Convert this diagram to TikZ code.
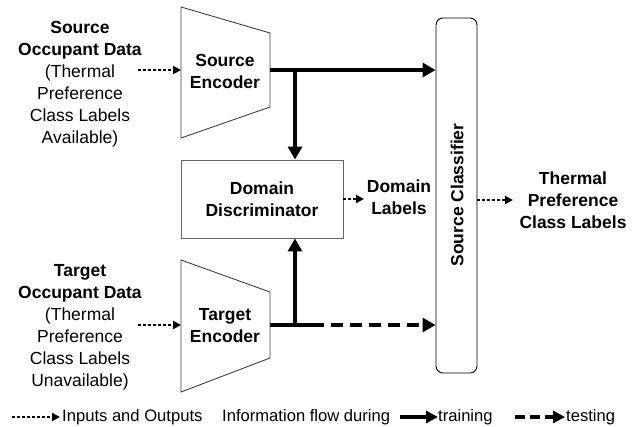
\documentclass[tikz,border=0pt]{standalone}
\usepackage{fontspec}
\setmainfont{Liberation Sans}
\usetikzlibrary{arrows.meta}
\begin{document}
\begin{tikzpicture}[x=1bp,y=-1bp,
  txt/.style={font=\fontsize{17.5bp}{22bp}\selectfont, align=center, inner sep=0pt},
  btxt/.style={txt, font=\fontsize{17.5bp}{22bp}\selectfont\bfseries},
  ltxt/.style={font=\fontsize{16.6bp}{20bp}\selectfont, anchor=west, inner sep=0pt},
  encshape/.style={draw=black!75, line width=0.9bp},
  trainflow/.style={line width=4bp, -{Triangle[length=13bp 0 0, width=14bp 0 0]}},
  testflow/.style={line width=4bp, dash pattern=on 12bp off 7bp, -{Triangle[length=13bp 0 0, width=14bp 0 0]}},
  ioflow/.style={line width=2.8bp, dash pattern=on 2.8bp off 2.2bp, -{Triangle[length=8bp 0 0, width=8bp 0 0]}},
]
\useasboundingbox (0,0) rectangle (639,426);

% encoders (trapezoids)
\draw[encshape] (181,7) -- (270,33) -- (270,107) -- (181,138) -- cycle;
\draw[encshape] (181,260) -- (270,292) -- (270,358) -- (181,392) -- cycle;
\node[btxt] (senc) at (225,71) {Source\\Encoder};
\node[btxt] (tenc) at (225,326) {Target\\Encoder};
\coordinate (senc-out) at (270,70);
\coordinate (tenc-out) at (270,325);
\coordinate (senc-in) at (181,70);
\coordinate (tenc-in) at (181,325);

% domain discriminator
\node[draw=black!60, line width=0.9bp, minimum width=162bp, minimum height=78bp, btxt] (dd) at (262,199) {Domain\\Discriminator};

% source classifier
\node[draw=black, line width=0.9bp, rounded corners=7bp, minimum width=41bp, minimum height=355bp, inner sep=0pt] (sc) at (456.5,195.5) {};
\node[btxt, rotate=90] (sclbl) at (457,195) {Source Classifier};

% outputs
\node[btxt] (dl) at (399,197) {Domain\\Labels};
\node[btxt] (tpl) at (573,200) {Thermal\\Preference\\Class Labels};

% inputs
\node[txt] (sdata) at (80,84) {\textbf{Source}\\\textbf{Occupant Data}\\(Thermal\\Preference\\Class Labels\\Available)};
\node[txt] (tdata) at (80,327) {\textbf{Target}\\\textbf{Occupant Data}\\(Thermal\\Preference\\Class Labels\\Unavailable)};

% input arrows
\coordinate (sdata-out) at (138,70);
\coordinate (tdata-out) at (138,325);
\draw[ioflow] (sdata-out) -- (senc-in);
\draw[ioflow] (tdata-out) -- (tenc-in);

% training flow
\coordinate (sj) at (295,70);
\coordinate (tj) at (295,325);
\coordinate (tsplit) at (312,325);
\draw[trainflow] (senc-out) -- (senc-out -| sc.west);
\draw[trainflow] (sj) -- (sj |- dd.north);
\draw[line width=4bp] (tenc-out) -- (tsplit);
\draw[trainflow] (tj) -- (tj |- dd.south);

% testing flow
\draw[testflow] (tsplit) -- (tsplit -| sc.west);

% output arrows
\draw[ioflow] (dd.east |- 0,199) -- (364,199);
\draw[ioflow] (sc.east |- 0,200) -- (513,200);

% legend
\coordinate (lg1a) at (12,417);
\coordinate (lg1b) at (60,417);
\draw[ioflow] (lg1a) -- (lg1b);
\node[ltxt] (lgio) at (62,417) {Inputs and Outputs};
\node[ltxt] (lginfo) at (222,417) {Information flow during};
\coordinate (lg2a) at (400,417);
\coordinate (lg2b) at (438,417);
\draw[line width=3.5bp, -{Triangle[length=12bp 0 0, width=12bp 0 0]}] (lg2a) -- (lg2b);
\node[ltxt] (lgtr) at (438,417) {training};
\coordinate (lg3a) at (515,417);
\coordinate (lg3b) at (565,417);
\draw[line width=3.5bp, dash pattern=on 10bp off 5bp, -{Triangle[length=12bp 0 0, width=12bp 0 0]}] (lg3a) -- (lg3b);
\node[ltxt] (lgte) at (566,417) {testing};
\end{tikzpicture}
\end{document}
